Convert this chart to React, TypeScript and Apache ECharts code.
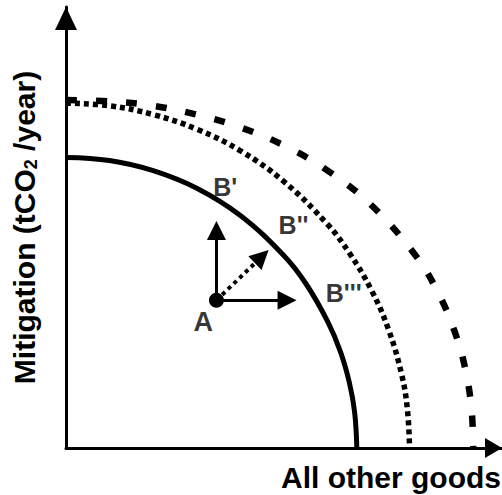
import React, { useEffect, useRef } from "react";
import * as echarts from "echarts";

// Production possibility frontiers (x: all other goods, y: mitigation)
const frontierB1: [number, number][] = [
  [0, 65.9], [10, 65.2], [20, 62.9], [30, 58.9], [40, 52.7], [50, 43.6],
  [55, 37.3], [60, 28.7], [63, 21.7], [65, 14.8], [66.2, 8.1], [66.7, 0],
];
const frontierB2: [number, number][] = [
  [0, 78.2], [10, 77.6], [20, 75.6], [30, 72.3], [40, 67.4], [50, 60.4],
  [60, 50.7], [65, 44.2], [70, 35.9], [74, 26.8], [77, 16.6], [78.3, 8.8], [78.8, 0],
];
const frontierB3: [number, number][] = [
  [0, 78.9], [10, 78.6], [20, 77.6], [30, 75.6], [40, 72.7], [50, 68.6],
  [60, 62.9], [70, 55.1], [80, 43.9], [85, 35.9], [89, 26.8], [91.5, 18.3], [93, 8.9], [93.4, 0],
];

const pointA: [number, number] = [34.5, 33.5];
const arrowEnds: [number, number][] = [[34.5, 49.3], [50.7, 33.5], [44.9, 43.4]];
const arrowDotted = [false, false, true];

const labelNames = ["B'", "B''", "B'''", "A"];
const labelPositions: [number, number][] = [[36.5, 59.2], [52.2, 50.6], [63.7, 35.1], [31.5, 28.6]];
const labelSizes = [25, 25, 25, 27];

const FONT = "'Liberation Sans', Arial, Helvetica, sans-serif";

export default function App() {
  const ref = useRef<HTMLDivElement>(null);
  useEffect(() => {
    const chart = echarts.init(ref.current!, null, { renderer: "svg" });
    chart.setOption({
      animation: false,
      backgroundColor: "#ffffff",
      grid: { left: 64, right: 0, top: 7, bottom: 47 },
      xAxis: {
        type: "value",
        min: 0,
        max: 100,
        axisLine: {
          show: true,
          lineStyle: { color: "#000", width: 3 },
          symbol: ["none", "triangle"],
          symbolSize: [20, 17],
          symbolOffset: [0, -8.5],
        },
        axisTick: { show: false },
        axisLabel: { show: false },
        splitLine: { show: false },
      },
      yAxis: {
        type: "value",
        min: 0,
        max: 100,
        name: "Mitigation (tCO{sub|2} /year)",
        nameLocation: "middle",
        nameRotate: 90,
        nameGap: 26,
        nameTextStyle: {
          color: "#000",
          fontSize: 30,
          fontWeight: "bold",
          fontFamily: FONT,
          lineHeight: 32,
          rich: {
            sub: {
              color: "#000",
              fontSize: 18,
              fontWeight: "bold",
              fontFamily: FONT,
              lineHeight: 20,
              verticalAlign: "bottom",
            },
          },
        },
        axisLine: {
          show: true,
          lineStyle: { color: "#000", width: 3 },
          symbol: ["none", "triangle"],
          symbolSize: [22, 23],
          symbolOffset: [0, -11.5],
        },
        axisTick: { show: false },
        axisLabel: { show: false },
        splitLine: { show: false },
      },
      graphic: [
        {
          type: "text",
          x: 501,
          y: 477,
          style: {
            text: "All other goods",
            fill: "#000",
            font: `bold 30px ${FONT}`,
            textAlign: "right",
            textVerticalAlign: "middle",
          },
        },
      ],
      series: [
        {
          type: "line",
          data: frontierB1,
          smooth: 0.4,
          showSymbol: false,
          lineStyle: { color: "#000", width: 5 },
          z: 3,
        },
        {
          type: "line",
          data: frontierB2,
          smooth: 0.4,
          showSymbol: false,
          lineStyle: { color: "#000", width: 5.5, type: [5, 4], cap: "butt" },
          z: 2,
        },
        {
          type: "line",
          data: frontierB3,
          smooth: 0.4,
          showSymbol: false,
          lineStyle: { color: "#000", width: 6.5, type: [11, 19], cap: "butt" },
          z: 2,
        },
        {
          type: "lines",
          coordinateSystem: "cartesian2d",
          symbol: ["none", "triangle"],
          symbolSize: [22, 19],
          data: arrowEnds.map((end, i) => ({
            coords: [pointA, end],
            lineStyle: {
              color: "#000",
              width: arrowDotted[i] ? 4 : 3,
              type: arrowDotted[i] ? [4, 4] : "solid",
              opacity: 1,
            },
          })),
          z: 4,
        },
        {
          type: "scatter",
          data: [pointA],
          symbol: "circle",
          symbolSize: 15,
          itemStyle: { color: "#000", opacity: 1 },
          z: 5,
        },
        {
          type: "scatter",
          data: labelNames.map((name, i) => ({
            name,
            value: labelPositions[i],
            label: { fontSize: labelSizes[i] },
          })),
          symbolSize: 1,
          itemStyle: { color: "rgba(0,0,0,0)" },
          label: {
            show: true,
            position: "inside",
            formatter: "{b}",
            color: "#000",
            fontSize: 25,
            fontWeight: "bold",
            fontFamily: FONT,
          },
          z: 6,
        },
      ],
    });
    return () => chart.dispose();
  }, []);
  return (
    <div
      ref={ref}
      style={{ position: "fixed", left: 0, top: 0, width: 502, height: 495, background: "#fff" }}
    />
  );
}
